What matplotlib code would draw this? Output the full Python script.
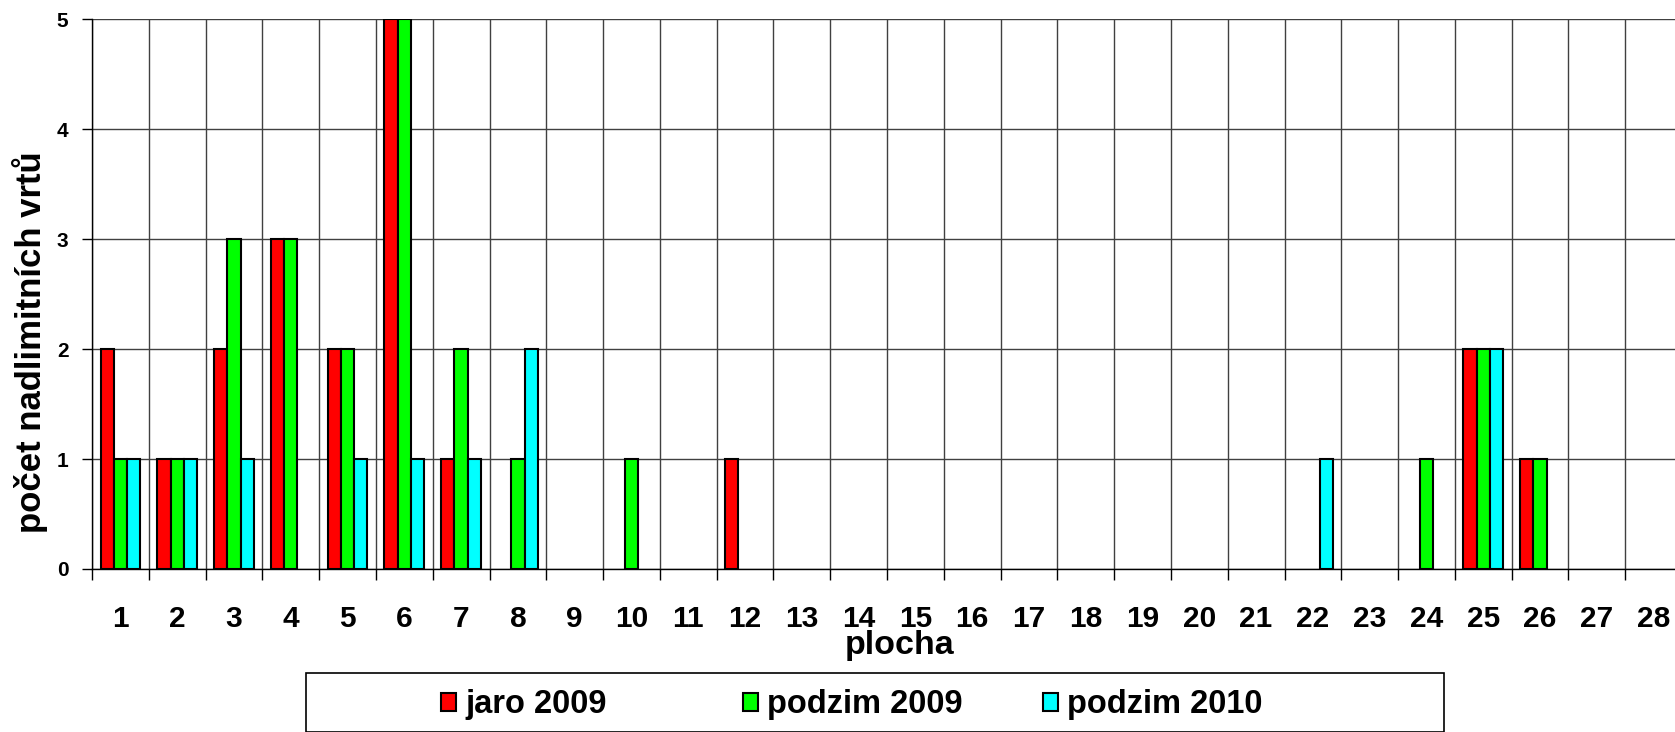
import matplotlib.pyplot as plt
from matplotlib.patches import Rectangle, Patch
from matplotlib.ticker import MultipleLocator, FixedLocator
import numpy as np

plt.rcParams['font.family'] = ['Liberation Sans', 'DejaVu Sans']
plt.rcParams['font.weight'] = 'bold'

plochy = list(range(1, 29))
jaro_2009 = [2, 1, 2, 3, 2, 5, 1, 0, 0, 0, 0, 1, 0, 0,
             0, 0, 0, 0, 0, 0, 0, 0, 0, 0, 2, 1, 0, 0]
podzim_2009 = [1, 1, 3, 3, 2, 5, 2, 1, 0, 1, 0, 0, 0, 0,
               0, 0, 0, 0, 0, 0, 0, 0, 0, 1, 2, 1, 0, 0]
podzim_2010 = [1, 1, 1, 0, 1, 1, 1, 2, 0, 0, 0, 0, 0, 0,
               0, 0, 0, 0, 0, 0, 0, 1, 0, 0, 2, 0, 0, 0]
y_ticks = [0, 1, 2, 3, 4, 5]
serie = ['jaro 2009', 'podzim 2009', 'podzim 2010']
barvy = ['#ff0000', '#00ff00', '#00ffff']

W, H = 1675, 732
fig = plt.figure(figsize=(W / 100, H / 100), dpi=100)
ax = fig.add_axes([92 / W, 1 - 569 / H, 1590 / W, 550 / H])

x = np.array(plochy)
w = 0.233
for k, (vals, name, c) in enumerate(zip([jaro_2009, podzim_2009, podzim_2010], serie, barvy)):
    v = np.array(vals, dtype=float)
    v[v == 0] = np.nan  # excel nekresli nulove sloupce
    ax.bar(x + (k - 1) * w, v, width=w, color=c, edgecolor='black',
           linewidth=1.5, label=name, zorder=3)

ax.set_xlim(0.5, 28.5)
ax.set_ylim(0, 5)
ax.xaxis.set_major_locator(FixedLocator(plochy))
ax.xaxis.set_minor_locator(MultipleLocator(1, offset=0.5))
ax.set_xticklabels([str(p) for p in plochy], fontweight='bold')
ax.set_yticks(y_ticks)
ax.set_yticklabels([str(t) for t in y_ticks], fontweight='bold')

ax.grid(which='minor', axis='x', color='#404040', linewidth=1, zorder=0)
ax.grid(which='major', axis='y', color='#404040', linewidth=1, zorder=0)

ax.tick_params(axis='x', which='major', length=0, pad=26, labelsize=21.5)
ax.tick_params(axis='x', which='minor', length=8, width=1, direction='out')
ax.tick_params(axis='y', which='major', length=7, width=1, pad=10, labelsize=15)

for s in ['top', 'right']:
    ax.spines[s].set_visible(False)
ax.spines['left'].set_linewidth(1)
ax.spines['bottom'].set_linewidth(1)

ax.set_xlabel('plocha', fontsize=24.5, fontweight='bold')
ax.xaxis.set_label_coords((900 - 92) / 1590, -0.111)
ax.set_ylabel('počet nadlimitních vrtů', fontsize=25, fontweight='bold')
ax.yaxis.set_label_coords(-0.0277, 0.413)

fig.patches.append(Rectangle((306 / W, 0.0), (1444 - 306) / W, 59 / H,
                             transform=fig.transFigure, facecolor='white',
                             edgecolor='black', linewidth=1.2))
# legenda - kazda polozka zvlast, aby sedely rozestupy jako v excelu
leg_x = [441, 743, 1043]
for name, c, lx in zip(serie, barvy, leg_x):
    leg = fig.legend(handles=[Patch(facecolor=c, edgecolor='black', linewidth=1.5, label=name)],
                     loc='center left', bbox_to_anchor=(lx / W, 27 / H), frameon=False,
                     fontsize=23.5, handlelength=0.45, handleheight=0.45,
                     handletextpad=0.3, borderpad=0, borderaxespad=0)
    for t in leg.get_texts():
        t.set_fontweight('bold')

fig.savefig('out.png', dpi=100)
